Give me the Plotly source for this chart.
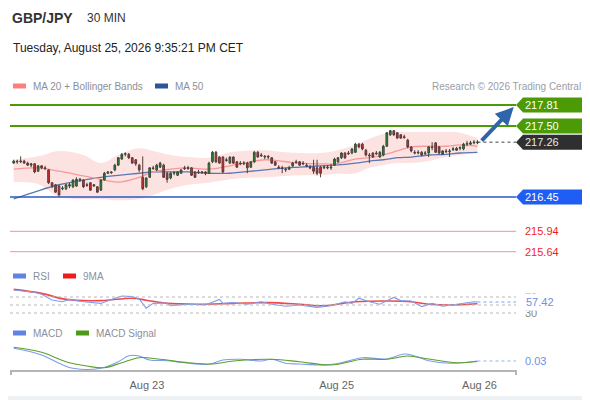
import plotly.graph_objects as go

W, H = 590, 400
FONT = 'Liberation Sans, Arial, sans-serif'

# 30 min candles, oldest first
opens = [
    216.95, 216.98, 216.97, 216.98, 216.95, 216.92, 216.94, 216.83, 216.91, 216.88,
    216.85, 216.66, 216.63, 216.61, 216.57, 216.57, 216.61, 216.60, 216.61, 216.70,
    216.70, 216.63, 216.66, 216.61, 216.60, 216.55, 216.70, 216.80, 216.82, 216.85,
    216.92, 217.01, 217.08, 217.08, 217.03, 217.00, 216.92, 216.74, 216.60, 216.74,
    216.88, 216.85, 216.89, 216.92, 216.80, 216.73, 216.80, 216.77, 216.80, 216.88,
    216.87, 216.88, 216.82, 216.82, 216.81, 216.82, 216.80, 216.97, 217.11, 217.04,
    217.04, 217.00, 216.95, 217.04, 216.97, 216.95, 216.94, 216.95, 216.89, 216.97,
    217.11, 217.07, 217.04, 217.05, 217.03, 216.97, 216.89, 216.88, 216.85, 216.86,
    216.91, 216.97, 216.97, 216.95, 216.92, 216.89, 216.89, 216.88, 216.89, 216.88,
    216.89, 216.88, 216.92, 216.97, 217.03, 217.10, 217.10, 217.10, 217.11, 217.23,
    217.23, 217.14, 217.07, 217.10, 217.10, 217.04, 217.07, 217.20, 217.37, 217.43,
    217.40, 217.37, 217.34, 217.29, 217.19, 217.11, 217.10, 217.11, 217.09, 217.10,
    217.19, 217.25, 217.19, 217.08, 217.13, 217.12, 217.15, 217.14, 217.17, 217.16,
    217.23, 217.23, 217.25, 217.25]
highs = [
    217.00, 217.00, 217.05, 217.00, 216.97, 216.95, 216.95, 216.92, 216.92, 216.91,
    216.86, 216.67, 216.64, 216.63, 216.61, 216.64, 216.66, 216.71, 216.74, 216.73,
    216.71, 216.66, 216.67, 216.64, 216.61, 216.71, 216.82, 216.83, 216.83, 216.94,
    217.04, 217.10, 217.11, 217.10, 217.04, 217.01, 216.94, 217.05, 216.74, 216.89,
    216.91, 216.94, 216.97, 216.94, 216.82, 216.82, 216.83, 216.83, 216.86, 216.91,
    216.91, 216.89, 216.83, 216.85, 216.83, 216.83, 216.97, 217.13, 217.13, 217.05,
    217.05, 217.03, 217.05, 217.05, 216.98, 216.98, 216.98, 216.97, 216.98, 217.13,
    217.13, 217.10, 217.07, 217.07, 217.04, 216.98, 216.92, 216.91, 216.88, 216.91,
    216.97, 217.00, 216.98, 216.98, 216.95, 216.92, 217.00, 217.00, 216.91, 216.92,
    216.92, 216.94, 217.03, 217.04, 217.11, 217.11, 217.13, 217.17, 217.25, 217.25,
    217.25, 217.16, 217.10, 217.11, 217.13, 217.13, 217.22, 217.41, 217.44, 217.44,
    217.41, 217.38, 217.37, 217.31, 217.20, 217.14, 217.14, 217.13, 217.13, 217.20,
    217.26, 217.26, 217.20, 217.14, 217.16, 217.16, 217.19, 217.19, 217.20, 217.25,
    217.28, 217.28, 217.29, 217.29]
lows = [
    216.94, 216.94, 216.95, 216.94, 216.91, 216.89, 216.80, 216.82, 216.86, 216.85,
    216.64, 216.58, 216.51, 216.45, 216.55, 216.55, 216.58, 216.58, 216.60, 216.67,
    216.58, 216.60, 216.54, 216.60, 216.51, 216.54, 216.69, 216.79, 216.79, 216.83,
    216.91, 217.00, 217.05, 217.01, 216.94, 216.91, 216.82, 216.55, 216.58, 216.73,
    216.85, 216.83, 216.88, 216.73, 216.66, 216.71, 216.77, 216.76, 216.79, 216.85,
    216.85, 216.76, 216.73, 216.79, 216.79, 216.77, 216.79, 216.95, 216.95, 216.94,
    216.80, 216.97, 216.94, 216.94, 216.88, 216.92, 216.92, 216.80, 216.88, 216.95,
    217.03, 217.04, 217.01, 217.01, 216.94, 216.91, 216.86, 216.80, 216.82, 216.85,
    216.89, 216.94, 216.91, 216.92, 216.89, 216.86, 216.79, 216.77, 216.74, 216.86,
    216.86, 216.85, 216.91, 216.95, 217.01, 217.01, 217.07, 217.08, 217.10, 217.17,
    217.14, 217.05, 216.95, 217.03, 217.07, 217.03, 217.05, 217.19, 217.35, 217.35,
    217.31, 217.31, 217.31, 217.17, 217.11, 217.08, 217.08, 217.05, 217.07, 217.04,
    217.14, 217.10, 217.08, 217.07, 217.10, 217.04, 217.13, 217.13, 217.14, 217.14,
    217.20, 217.22, 217.23, 217.23]
closes = [
    216.98, 216.97, 216.98, 216.95, 216.92, 216.94, 216.82, 216.91, 216.88, 216.87,
    216.66, 216.61, 216.52, 216.48, 216.58, 216.63, 216.63, 216.70, 216.71, 216.71,
    216.60, 216.62, 216.55, 216.63, 216.52, 216.70, 216.80, 216.82, 216.81, 216.92,
    217.03, 217.08, 217.09, 217.03, 216.95, 216.94, 216.85, 216.57, 216.73, 216.88,
    216.87, 216.92, 216.95, 216.74, 216.71, 216.80, 216.81, 216.82, 216.85, 216.87,
    216.88, 216.77, 216.74, 216.81, 216.82, 216.80, 216.95, 217.11, 216.97, 216.95,
    216.82, 216.99, 217.04, 216.95, 216.89, 216.94, 216.95, 216.88, 216.97, 217.11,
    217.04, 217.06, 217.05, 217.04, 216.95, 216.92, 216.88, 216.87, 216.86, 216.88,
    216.95, 216.96, 216.92, 216.94, 216.91, 216.88, 216.83, 216.80, 216.80, 216.89,
    216.88, 216.89, 217.01, 217.03, 217.10, 217.03, 217.09, 217.16, 217.23, 217.19,
    217.16, 217.07, 217.06, 217.04, 217.09, 217.11, 217.20, 217.40, 217.43, 217.37,
    217.32, 217.32, 217.33, 217.19, 217.13, 217.10, 217.11, 217.07, 217.10, 217.19,
    217.18, 217.11, 217.10, 217.13, 217.12, 217.13, 217.16, 217.17, 217.18, 217.23,
    217.24, 217.25, 217.26, 217.26]
bars = list(range(len(closes)))

tick_pos = [38.2, 92.6, 133.6]
tick_text = ['Aug 23', 'Aug 25', 'Aug 26']

# bollinger bands / moving averages, sampled along the bars
band_idx = [0, 7, 13, 20, 25, 30, 36, 40, 45, 50, 56, 62, 66, 72, 78, 82, 88, 92,
            98, 102, 106, 110, 114, 119, 124, 128, 133]
bb_upper = [217.00, 217.05, 217.13, 217.07, 216.95, 217.07, 217.17, 217.13, 217.07,
            217.04, 217.03, 217.11, 217.13, 217.14, 217.11, 217.10, 217.10, 217.13,
            217.22, 217.31, 217.38, 217.41, 217.41, 217.41, 217.41, 217.40, 217.32]
bb_lower = [216.67, 216.64, 216.45, 216.42, 216.42, 216.40, 216.42, 216.48, 216.57,
            216.63, 216.66, 216.71, 216.73, 216.74, 216.76, 216.77, 216.77, 216.79,
            216.80, 216.88, 216.92, 216.95, 216.95, 216.98, 217.04, 217.07, 217.11]
ma20 = [216.86, 216.88, 216.83, 216.76, 216.71, 216.67, 216.74, 216.82, 216.86,
        216.88, 216.86, 216.91, 216.95, 217.00, 216.97, 216.95, 216.94, 216.94,
        217.01, 217.03, 217.07, 217.13, 217.19, 217.20, 217.20, 217.22, 217.20]
ma50 = [216.42, 216.54, 216.63, 216.70, 216.74, 216.77, 216.80, 216.82, 216.82,
        216.82, 216.80, 216.80, 216.82, 216.85, 216.88, 216.89, 216.91, 216.92,
        216.95, 216.98, 217.00, 217.03, 217.04, 217.07, 217.08, 217.10, 217.11]

# RSI and its 9 period average
rsi_idx = [0, 6, 8, 11, 14, 16, 20, 25, 28, 31, 34, 36, 38, 40, 44, 45, 50, 55, 59,
           60, 63, 67, 71, 74, 78, 82, 87, 91, 95, 97, 99, 102, 105, 109, 111, 114,
           117, 120, 123, 127, 130, 132, 133]
rsi = [87.5, 81.7, 76.7, 62.5, 58, 64, 58, 54, 64, 72.5, 71, 65, 42, 54, 55, 48, 52,
       50, 64, 54, 56, 52, 58, 52, 47, 50, 44, 48, 58, 54, 67, 58, 52, 69, 61, 60,
       46, 54, 47, 52, 57, 58, 57.42]
rsi_ma_idx = [0, 8, 15, 25, 34, 38, 44, 53, 63, 73, 82, 89, 98, 108, 114, 119, 125, 133]
rsi_ma = [89, 79, 64, 61, 67, 62, 54, 52, 54, 56, 52, 48, 58, 60, 58, 52, 50, 53]

# MACD
macd_idx = [0, 8, 13, 17, 25, 30, 33, 36, 39, 44, 49, 56, 60, 65, 71, 74, 78, 82,
            89, 94, 100, 107, 112, 115, 119, 125, 133]
macd = [0.157, 0.09, 0.007, -0.043, -0.043, 0.023, 0.083, 0.08, 0.04, 0.033, 0.013,
        -0.003, 0.04, 0.047, 0.03, 0.047, 0.007, 0.0, -0.01, 0.013, 0.063, 0.05,
        0.1, 0.08, 0.033, 0.007, 0.03]
sig_idx = [0, 8, 15, 21, 26, 31, 36, 42, 50, 57, 63, 74, 82, 91, 100, 107, 113, 119,
           127, 133]
macd_sig = [0.167, 0.117, 0.023, -0.02, -0.037, 0.013, 0.063, 0.047, 0.013, 0.0,
            0.03, 0.047, 0.023, -0.01, 0.047, 0.047, 0.08, 0.05, 0.013, 0.025]

# key levels
resistances = [217.81, 217.50]
last_price = 217.26
support = 216.45
lower_levels = [215.94, 215.64]
rsi_last = 57.42
macd_last = 0.03

# the page puts the plot 8px in from the corner, so layout pixels are offset
OFF = 8


def px(x):
    return (x - OFF) / W


def py(y):
    return 1 - (y - OFF) / H


X0, X1 = px(10), px(516)
main_dom = [py(262), py(95)]
rsi_dom = [py(316), py(288)]
macd_dom = [py(371), py(343)]
x_range = [-1.06, 144.05]
price_range = [215.487, 217.958]


def price_y(p):
    frac = (p - price_range[0]) / (price_range[1] - price_range[0])
    return main_dom[0] + frac * (main_dom[1] - main_dom[0])


fig = go.Figure()

fig.add_trace(go.Scatter(x=band_idx, y=bb_upper, mode='lines',
                         line=dict(width=0, shape='spline'), hoverinfo='skip'))
fig.add_trace(go.Scatter(x=band_idx, y=bb_lower, mode='lines', fill='tonexty',
                         fillcolor='#fde2e2', line=dict(width=0, shape='spline'),
                         hoverinfo='skip'))
fig.add_trace(go.Scatter(x=band_idx, y=ma50, mode='lines',
                         line=dict(color='#5a78b4', width=1.3, shape='spline')))
fig.add_trace(go.Scatter(x=band_idx, y=ma20, mode='lines',
                         line=dict(color='#f59a9a', width=1.3, shape='spline')))
# candles on an overlaid axis so they sit above the band fill
fig.add_trace(go.Candlestick(
    x=bars, open=opens, high=highs, low=lows, close=closes, xaxis='x', yaxis='y4',
    increasing=dict(line=dict(color='#3a4a3a', width=1), fillcolor='#2e8b2e'),
    decreasing=dict(line=dict(color='#5a3a3a', width=1), fillcolor='#e02828'),
))

fig.add_trace(go.Scatter(x=rsi_ma_idx, y=rsi_ma, mode='lines', xaxis='x2', yaxis='y2',
                         line=dict(color='#f04848', width=1.6, shape='spline')))
fig.add_trace(go.Scatter(x=rsi_idx, y=rsi, mode='lines', xaxis='x2', yaxis='y2',
                         line=dict(color='#7f9cf0', width=1.1)))
fig.add_trace(go.Scatter(x=macd_idx, y=macd, mode='lines', xaxis='x3', yaxis='y3',
                         line=dict(color='#7f9cf0', width=1.1, shape='spline')))
fig.add_trace(go.Scatter(x=sig_idx, y=macd_sig, mode='lines', xaxis='x3', yaxis='y3',
                         line=dict(color='#5aa02a', width=1.1, shape='spline')))

shapes = []
# white card on the grey page
shapes.append(dict(type='rect', xref='paper', yref='paper', x0=px(2), x1=px(588),
                   y0=py(396), y1=py(2), fillcolor='white', line=dict(width=0),
                   layer='below'))

# level lines
for lv in resistances:
    shapes.append(dict(type='line', xref='paper', yref='y', x0=X0, x1=X1, y0=lv, y1=lv,
                       line=dict(color='#4c9a06', width=2)))
shapes.append(dict(type='line', xref='paper', yref='y', x0=X0, x1=X1, y0=support,
                   y1=support, line=dict(color='#2a58c4', width=1.5)))
for lv in lower_levels:
    shapes.append(dict(type='line', xref='paper', yref='y', x0=X0, x1=X1, y0=lv, y1=lv,
                       line=dict(color='#f6a8a8', width=1.3)))
shapes.append(dict(type='line', xref='x', yref='y', x0=bars[-1], x1=x_range[1],
                   y0=last_price, y1=last_price,
                   line=dict(color='#444444', width=1, dash='dot')))

# price tags on the right
tags = [(resistances[0], '#4c9a06', 'white'), (resistances[1], '#4c9a06', 'white'),
        (last_price, '#2f2f2f', '#e8e8e8'), (support, '#1f5ef5', 'white')]
annotations = []
half = 7.5 / H
for lv, bg, fg in tags:
    yc = price_y(lv)
    shapes.append(dict(
        type='path', xref='paper', yref='paper', fillcolor=bg, line=dict(width=0),
        path=(f'M {px(516)},{yc} L {px(523)},{yc + half} L {px(587)},{yc + half} '
              f'L {px(587)},{yc - half} L {px(523)},{yc - half} Z')))
    annotations.append(dict(xref='paper', yref='paper', x=px(523), y=yc, text=f'{lv:.2f}',
                            xanchor='left', yanchor='middle', showarrow=False,
                            font=dict(family=FONT, size=11, color=fg)))
for lv in lower_levels:
    annotations.append(dict(xref='paper', yref='paper', x=px(523), y=price_y(lv),
                            text=f'{lv:.2f}', xanchor='left', yanchor='middle',
                            showarrow=False, font=dict(family=FONT, size=11, color='#f01e1e')))

# blue projection arrow
annotations.append(dict(xref='x', yref='y', axref='x', ayref='y', x=143.4, y=217.78,
                        ax=133.8, ay=last_price, text='', showarrow=True, arrowhead=2,
                        arrowsize=0.9, arrowwidth=4, arrowcolor='#2f66aa'))

# RSI guides
for lv in [70, 50, 30]:
    shapes.append(dict(type='line', xref='paper', yref='y2', x0=X0, x1=X1, y0=lv, y1=lv,
                       line=dict(color='#b8b8b8', width=1, dash='dot')))
shapes.append(dict(type='line', xref='x2', yref='y2', x0=rsi_idx[-1], x1=x_range[1],
                   y0=rsi_last, y1=rsi_last, line=dict(color='#7f9cf0', width=1, dash='dot')))
shapes.append(dict(type='line', xref='x3', yref='y3', x0=macd_idx[-1], x1=x_range[1],
                   y0=macd_last, y1=macd_last, line=dict(color='#9ab0ee', width=1, dash='dot')))
for lv in [70, 30]:
    annotations.append(dict(xref='paper', yref='y2', x=px(523), y=lv, text=str(lv),
                            xanchor='left', yanchor='middle', showarrow=False,
                            font=dict(family=FONT, size=11, color='#8a8a8a')))
annotations.append(dict(xref='paper', yref='y2', x=px(523), y=rsi_last, text=f'{rsi_last:.2f}',
                        xanchor='left', yanchor='middle', showarrow=False, bgcolor='white',
                        borderpad=2, font=dict(family=FONT, size=11, color='#6f8fe8')))
annotations.append(dict(xref='paper', yref='y3', x=px(523), y=macd_last, text=f'{macd_last:.2f}',
                        xanchor='left', yanchor='middle', showarrow=False,
                        font=dict(family=FONT, size=11, color='#6f8fe8')))

# bottom axis line with end ticks
shapes.append(dict(type='path', xref='paper', yref='paper',
                   path=(f'M {px(11)},{py(375)} L {px(11)},{py(371)} '
                         f'L {px(516)},{py(371)} L {px(516)},{py(375)}'),
                   line=dict(color='#b5b5b5', width=2)))


# legends
def legend_item(x, y, color, label):
    shapes.append(dict(type='rect', xref='paper', yref='paper', x0=px(x), x1=px(x + 13),
                       y0=py(y + 2.5), y1=py(y - 2.5), fillcolor=color, line=dict(width=0)))
    annotations.append(dict(xref='paper', yref='paper', x=px(x + 18), y=py(y), text=label,
                            xanchor='left', yanchor='middle', showarrow=False,
                            font=dict(family=FONT, size=10, color='#8a909a')))


legend_item(13, 86, '#ff7f7f', 'MA 20 + Bollinger Bands')
legend_item(155, 86, '#2d5597', 'MA 50')
legend_item(13, 276, '#5f84e6', 'RSI')
legend_item(63, 276, '#ee1c1c', '9MA')
legend_item(13, 333, '#5f84e6', 'MACD')
legend_item(76, 333, '#4d9a1a', 'MACD Signal')

annotations.append(dict(xref='paper', yref='paper', x=px(583), y=py(86),
                        text='Research © 2026 Trading Central', xanchor='right',
                        yanchor='middle', showarrow=False,
                        font=dict(family=FONT, size=10, color='#9a9ea6')))
annotations.append(dict(xref='paper', yref='paper', x=px(10), y=py(18), text='<b>GBP/JPY</b>',
                        xanchor='left', yanchor='middle', showarrow=False,
                        font=dict(family=FONT, size=14, color='#333333')))
annotations.append(dict(xref='paper', yref='paper', x=px(85), y=py(18), text='30 MIN',
                        xanchor='left', yanchor='middle', showarrow=False,
                        font=dict(family=FONT, size=12, color='#333333')))
annotations.append(dict(xref='paper', yref='paper', x=px(11), y=py(48),
                        text='Tuesday, August 25, 2026 9:35:21 PM CET', xanchor='left',
                        yanchor='middle', showarrow=False,
                        font=dict(family=FONT, size=12, color='#222222')))

hidden = dict(showgrid=False, zeroline=False, showticklabels=False, showline=False, ticks='')
fig.update_layout(
    width=W, height=H, margin=dict(l=0, r=0, t=0, b=0),
    paper_bgcolor='#eef1f4', plot_bgcolor='rgba(0,0,0,0)', showlegend=False,
    font=dict(family=FONT),
    xaxis=dict(domain=[X0, X1], range=x_range, anchor='y', rangeslider=dict(visible=False),
               **hidden),
    xaxis2=dict(domain=[X0, X1], range=x_range, anchor='y2', matches='x', **hidden),
    xaxis3=dict(domain=[X0, X1], range=x_range, anchor='y3', matches='x',
                showgrid=False, zeroline=False, showline=False, ticks='',
                tickvals=tick_pos, ticktext=tick_text, ticklabelstandoff=6,
                tickfont=dict(family=FONT, size=11, color='#666666')),
    yaxis=dict(domain=main_dom, range=price_range, anchor='x', **hidden),
    yaxis2=dict(domain=rsi_dom, range=[22.5, 92.5], anchor='x2', **hidden),
    yaxis3=dict(domain=macd_dom, range=[-0.07, 0.21], anchor='x3', **hidden),
    yaxis4=dict(range=price_range, overlaying='y', anchor='x', **hidden),
    shapes=shapes, annotations=annotations,
)

fig.write_html('out.html')
